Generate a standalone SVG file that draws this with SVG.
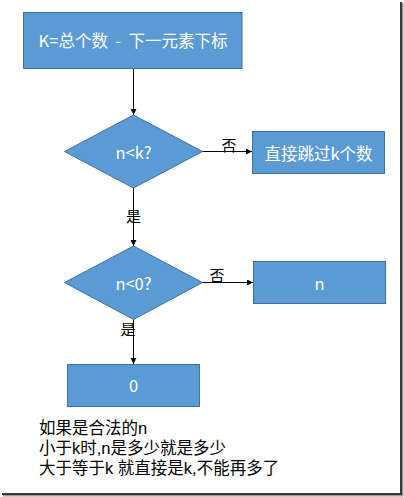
<svg xmlns="http://www.w3.org/2000/svg" width="404" height="497" viewBox="0 0 404 497">
<style>
.n{fill:#5B9BD5;stroke:#41719C;stroke-width:1}
.t{fill:#fff;font-family:"Noto Sans CJK SC","Liberation Sans",sans-serif;font-size:16.5px;text-anchor:middle;dominant-baseline:central}
.c{stroke:#000;stroke-width:1;fill:none;marker-end:url(#a)}
.l{fill:#000;font-family:"Noto Sans CJK SC","Liberation Sans",sans-serif;font-size:15px;text-anchor:middle;dominant-baseline:central}
.b{fill:#000;font-family:"Liberation Sans","Noto Sans CJK SC",sans-serif;font-size:16.5px}
</style>
<defs>
<marker id="a" markerWidth="8" markerHeight="8" refX="6" refY="3" orient="auto" markerUnits="userSpaceOnUse">
<path d="M0,0 L6,3 L0,6 z" fill="#000"/>
</marker>
</defs>
<rect width="404" height="497" fill="#fff"/>
<g id="frame">
<rect x="400" y="2" width="2" height="493" fill="#3a3a3a"/>
<rect x="402" y="3" width="1.5" height="493" fill="#9a9a9a"/>
<rect x="2" y="493" width="400" height="2" fill="#3a3a3a"/>
<rect x="3" y="495" width="400" height="1.5" fill="#9a9a9a"/>
</g>
<g id="connectors">
<line class="c" x1="133.5" y1="68.5" x2="133.5" y2="115"/>
<line class="c" x1="202" y1="151.5" x2="252" y2="151.5"/>
<line class="c" x1="133.5" y1="188" x2="133.5" y2="246"/>
<line class="c" x1="202" y1="282.5" x2="253" y2="282.5"/>
<line class="c" x1="133.5" y1="319.5" x2="133.5" y2="364"/>
<text class="l" x="229" y="144.5">否</text>
<text class="l" x="133.5" y="215">是</text>
<text class="l" x="217" y="274.5">否</text>
<text class="l" x="128" y="328">是</text>
</g>
<g id="start">
<rect class="n" x="23.5" y="12.5" width="218.5" height="56"/>
<text class="t" x="133" y="40">K=总个数&#160;&#160;-&#160;&#160;下一元素下标</text>
</g>
<g id="d1">
<polygon class="n" points="133.5,115 202.5,151.5 133.5,188 64.5,151.5"/>
<text class="t" x="133.5" y="152">n&lt;k?</text>
</g>
<g id="skip">
<rect class="n" x="252.5" y="131.5" width="132" height="42"/>
<text class="t" x="318.5" y="152.5">直接跳过k个数</text>
</g>
<g id="d2">
<polygon class="n" points="133.5,246 202.5,282.5 133.5,319.5 64.5,282.5"/>
<text class="t" x="133.5" y="282.5">n&lt;0?</text>
</g>
<g id="nbox">
<rect class="n" x="253.5" y="261.5" width="132" height="42"/>
<text class="t" x="319.5" y="282.5">n</text>
</g>
<g id="zero">
<rect class="n" x="67.5" y="364.5" width="132" height="42"/>
<text class="t" x="133.5" y="385">0</text>
</g>
<g id="note">
<text class="b" x="39" y="433.5">如果是合法的n</text>
<text class="b" x="39" y="454">小于k时,n是多少就是多少</text>
<text class="b" x="39" y="474">大于等于k 就直接是k,不能再多了</text>
</g>
</svg>
